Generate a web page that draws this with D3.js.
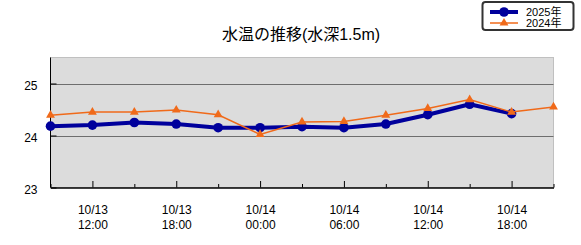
<!DOCTYPE html>
<html><head><meta charset="utf-8">
<script src="https://cdn.jsdelivr.net/npm/d3@7"></script>
<style>
body{margin:0;background:#fff;}
svg{display:block;}
text{font-family:"Liberation Sans","Noto Sans CJK JP",sans-serif;}
</style></head>
<body>
<script>
const times = ["10/13 09:00","10/13 12:00","10/13 15:00","10/13 18:00","10/13 21:00","10/14 00:00","10/14 03:00","10/14 06:00","10/14 09:00","10/14 12:00","10/14 15:00","10/14 18:00","10/14 21:00"];
const series2025 = [24.18,24.20,24.25,24.22,24.15,24.15,24.17,24.15,24.22,24.40,24.60,24.42];
const series2024 = [24.39,24.45,24.45,24.49,24.40,24.02,24.26,24.27,24.39,24.52,24.69,24.45,24.55];
const yTicks = [23,24,25];
const labeledTimes = ["10/13 12:00","10/13 18:00","10/14 00:00","10/14 06:00","10/14 12:00","10/14 18:00"];
const title = "水温の推移(水深1.5m)";
const legendNames = ["2025年","2024年"];
const colors = {"2025年":"#00009c","2024年":"#f06a1a"};

const W=581,H=245;
const m={left:50.5,right:553.5,top:57.5,bottom:187.5};
const svg=d3.select("body").append("svg").attr("width",W).attr("height",H);
const parse=d3.timeParse("%Y/%m/%d %H:%M");
const toDate=s=>parse("2025/"+s);
const x=d3.scaleTime().domain([toDate(times[0]),toDate(times[times.length-1])]).range([m.left,m.right]);
const y=d3.scaleLinear().domain([23,25.5]).range([m.bottom,m.top]);

// plot background
svg.append("rect").attr("x",m.left).attr("y",m.top).attr("width",m.right-m.left).attr("height",m.bottom-m.top)
  .attr("fill","#dcdcdc").attr("stroke","#c0c0c0").attr("stroke-width",1);
// gridlines
svg.append("g").selectAll("line").data(yTicks.filter(v=>v>23)).join("line")
  .attr("x1",m.left).attr("x2",m.right).attr("y1",d=>Math.round(y(d))+0.5).attr("y2",d=>Math.round(y(d))+0.5)
  .attr("stroke","#6e6e6e").attr("stroke-width",1);

// y axis
const yAxis=d3.axisLeft(y).tickValues(yTicks).tickSize(-6).tickPadding(13).tickFormat(d3.format("d"));
const gy=svg.append("g").attr("transform",`translate(${m.left},0)`).call(yAxis);
gy.select(".domain").attr("stroke","#000").attr("d",`M0.5,${m.top}V${m.bottom}`).attr("transform","translate(-0.5,0)");
gy.selectAll("text").attr("font-size",12).attr("fill","#000").attr("dy","0.5em");

// x axis
const allDates=times.map(toDate);
const xAxis=d3.axisBottom(x).tickValues(allDates).tickSize(0).tickFormat("");
const gx=svg.append("g").attr("transform",`translate(0,${m.bottom})`).call(xAxis);
gx.select(".domain").attr("stroke","#000").attr("stroke-width",1.5);
gx.selectAll(".tick line").remove();
gx.selectAll(".tick").append("line")
  .attr("y1",0).attr("y2",(d,i)=>labeledTimes.includes(times[i])?-6.5:-3.5).attr("stroke","#000");
gx.selectAll(".tick").each(function(d,i){
  if(!labeledTimes.includes(times[i]))return;
  const parts=times[i].split(" ");
  const t=d3.select(this).append("text").attr("fill","#000").attr("font-size",12).attr("text-anchor","middle");
  t.append("tspan").attr("x",0).attr("y",26).text(parts[0]);
  t.append("tspan").attr("x",0).attr("y",41).text(parts[1]);
});

// series
const line=d3.line().x((d,i)=>x(allDates[i])).y(d=>y(d));
svg.append("path").datum(series2025).attr("d",line).attr("fill","none")
  .attr("stroke",colors["2025年"]).attr("stroke-width",4).attr("stroke-linejoin","round");
svg.append("g").selectAll("circle").data(series2025).join("circle")
  .attr("cx",(d,i)=>x(allDates[i])).attr("cy",d=>y(d)).attr("r",4.8).attr("fill",colors["2025年"]);
svg.append("path").datum(series2024).attr("d",line).attr("fill","none")
  .attr("stroke",colors["2024年"]).attr("stroke-width",1.5);
const tri=d3.symbol().type(d3.symbolTriangle).size(34);
svg.append("g").selectAll("path").data(series2024).join("path")
  .attr("d",tri).attr("transform",(d,i)=>`translate(${x(allDates[i])},${y(d)})`).attr("fill",colors["2024年"]);

// title
svg.append("text").attr("x",301).attr("y",40).attr("text-anchor","middle").attr("font-size",16)
  .attr("font-family","'Noto Sans CJK JP',sans-serif").attr("fill","#000").text(title);

// legend
const lg=svg.append("g");
lg.append("rect").attr("x",482.5).attr("y",2).attr("width",91).attr("height",28).attr("rx",3)
  .attr("fill","#fff").attr("stroke","#333").attr("stroke-width",2);
legendNames.forEach((n,i)=>{
  const ly=12+i*11;
  lg.append("line").attr("x1",490).attr("x2",518).attr("y1",ly).attr("y2",ly)
    .attr("stroke",colors[n]).attr("stroke-width",i===0?4:1.5);
  if(i===0) lg.append("circle").attr("cx",504).attr("cy",ly).attr("r",4.8).attr("fill",colors[n]);
  else lg.append("path").attr("d",tri).attr("transform",`translate(504,${ly})`).attr("fill",colors[n]);
  lg.append("text").attr("x",526).attr("y",ly+4).attr("font-size",11).attr("fill","#000").text(n);
});
</script>
</body></html>
